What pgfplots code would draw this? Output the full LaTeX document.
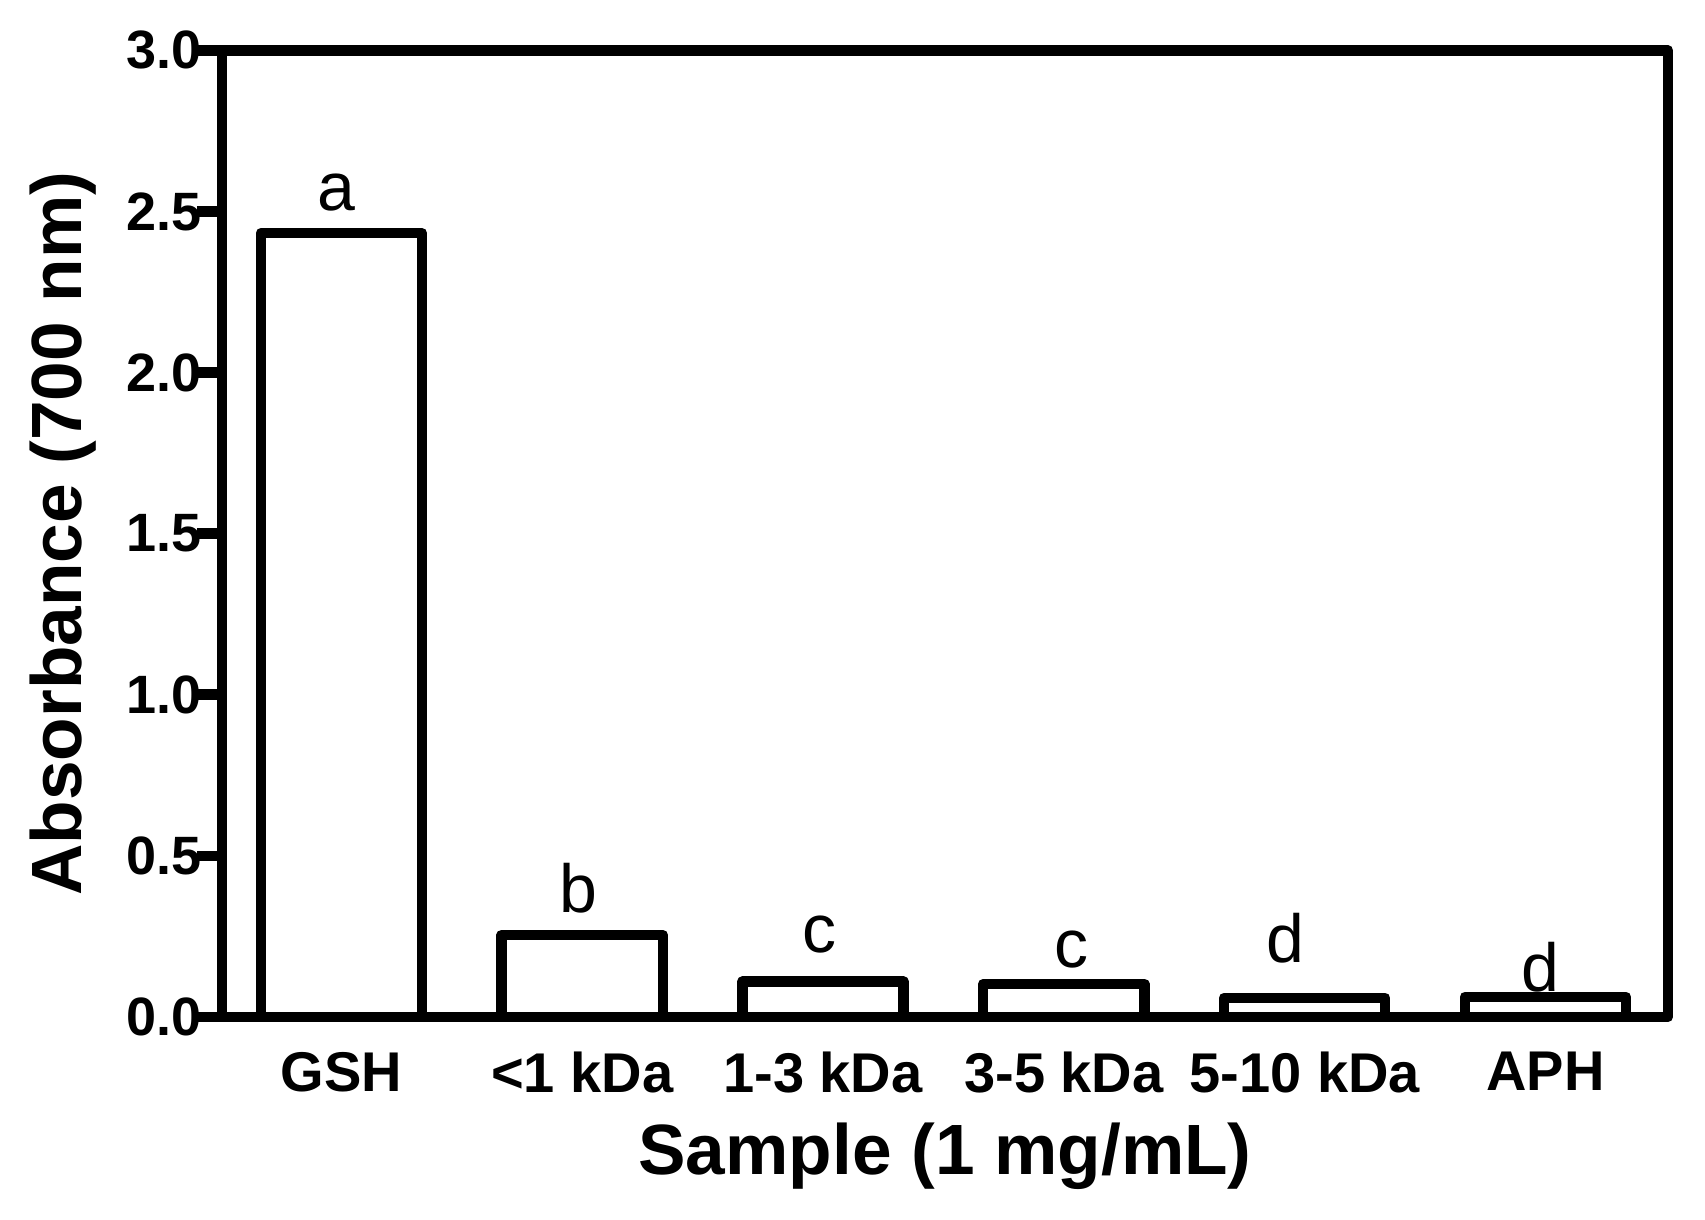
\documentclass[border=0pt]{standalone}
\usepackage{fontspec}
\setmainfont{Liberation Sans}
\usepackage{pgfplots}
\pgfplotsset{compat=1.18}

\begin{document}
\begin{tikzpicture}
\begin{axis}[
  scale only axis,
  width=361.5pt, height=241.6pt,
  xmin=-0.496, xmax=5.509,
  ymin=0, ymax=3,
  axis on top,
  axis line style={line width=2.6pt, line join=round, line cap=round},
  ybar, bar width=0.669,
  xtick={0,1,2,3,4,5},
  xticklabels={GSH, {<1 kDa}, {1-3 kDa}, {3-5 kDa}, {5-10 kDa}, APH},
  x tick style={draw=none},
  ytick={0,0.5,1,1.5,2,2.5,3},
  ytick pos=left,
  tick align=outside,
  major tick length=6.25pt,
  y tick style={line width=2.6pt, black},
  /pgf/number format/assume math mode=true,
  yticklabel style={/pgf/number format/.cd, fixed, fixed zerofill, precision=1, /tikz/.cd,
    font=\fontsize{13.5}{16}\selectfont\bfseries, xshift=4.6pt},
  xticklabel style={font=\fontsize{14}{17}\selectfont\bfseries, yshift=1pt},
  ylabel={Absorbance (700 nm)},
  xlabel={Sample (1 mg/mL)},
  ylabel style={at={(axis description cs:-0.110,0.5)}, anchor=center, font=\fontsize{17.8}{21}\selectfont\bfseries},
  xlabel style={at={(axis description cs:0.5,-0.1635)}, anchor=base, font=\fontsize{17.8}{21}\selectfont\bfseries},
]
\addplot[draw=black, fill=white, line width=2.6pt, line join=round]
  coordinates {(0,2.433) (1,0.254) (2,0.109) (3,0.102) (4,0.059) (5,0.062)};
\coordinate (sw) at (rel axis cs:0,0);
\coordinate (ne) at (rel axis cs:1,1);
\begin{scope}[every node/.style={font=\fontsize{17}{20}\selectfont, anchor=center, inner sep=0pt}]
\node at (axis cs:-0.02,2.56) {a};
\node at (axis cs:0.986,0.40) {b};
\node at (axis cs:1.986,0.256) {c};
\node at (axis cs:3.03,0.209) {c};
\node at (axis cs:3.92,0.244) {d};
\node at (axis cs:4.98,0.155) {d};
\end{scope}
\end{axis}
\pgfresetboundingbox
\path[use as bounding box] ([shift={(-55.5pt,-50.75pt)}]sw) rectangle ([shift={(9.25pt,12.6pt)}]ne);
\end{tikzpicture}
\end{document}
